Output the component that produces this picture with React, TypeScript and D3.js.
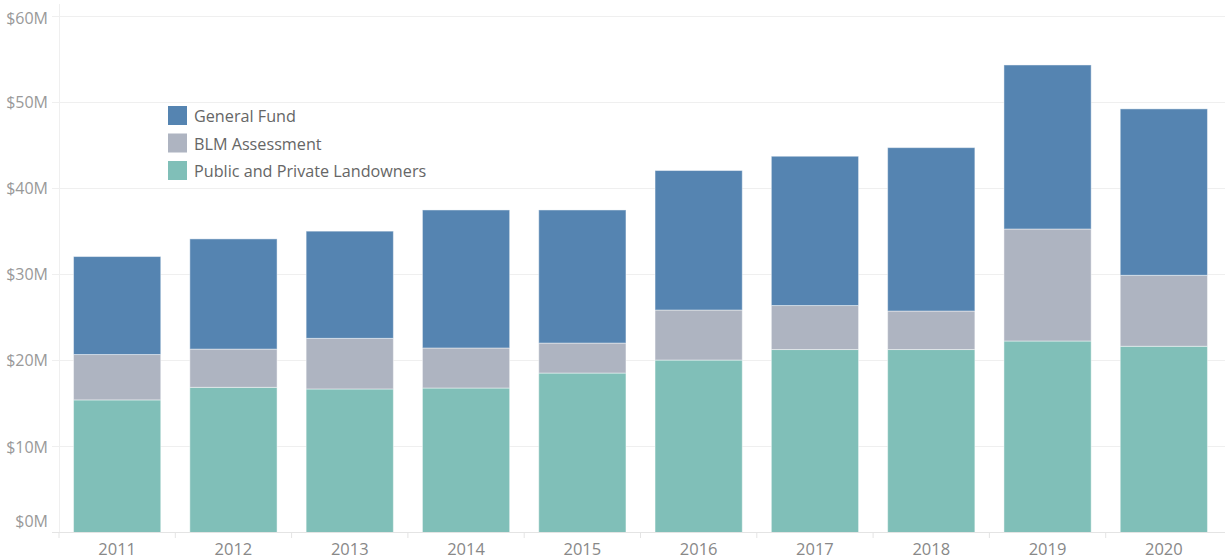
import React from "react";
import * as d3 from "d3";

const years = ["2011", "2012", "2013", "2014", "2015", "2016", "2017", "2018", "2019", "2020"];
const landowners = [15.4, 16.86, 16.67, 16.78, 18.52, 20.03, 21.25, 21.25, 22.24, 21.63];
const blm = [5.27, 4.44, 5.88, 4.65, 3.48, 5.81, 5.11, 4.47, 13.01, 8.24];
const generalFund = [11.38, 12.8, 12.45, 16.03, 15.46, 16.2, 17.34, 18.98, 19.05, 19.33];
const yTicks = [0, 10, 20, 30, 40, 50, 60];
const seriesNames = ["Public and Private Landowners", "BLM Assessment", "General Fund"];
const legendOrder = ["General Fund", "BLM Assessment", "Public and Private Landowners"];

const colors: Record<string, string> = {
  "General Fund": "#5584b1",
  "BLM Assessment": "#aeb4c1",
  "Public and Private Landowners": "#80bfb8",
};

const W = 1225;
const H = 559;
const font = "'Open Sans', Lato, sans-serif";

export default function App() {
  const x = d3.scaleBand<string>().domain(years).range([59, 1222]).paddingInner(0.25).paddingOuter(0.125);
  const y = d3.scaleLinear().domain([0, 60]).range([532.5, 15.9]);
  const rows = years.map((yr, i) => ({
    year: yr,
    "Public and Private Landowners": landowners[i],
    "BLM Assessment": blm[i],
    "General Fund": generalFund[i],
  }));
  const stack = d3.stack<any>().keys(seriesNames)(rows);
  const step = x.step();
  const start = x.range()[0];
  const labelShift = (t: number) => (t === 0 ? -11 : t === 60 ? 2.5 : 0.5);

  return (
    <svg width={W} height={H} style={{ position: "absolute", left: 0, top: 0, background: "#fff" }}>
      <line x1={59.5} x2={59.5} y1={4} y2={532} stroke="#efefef" strokeWidth={1} />
      {yTicks.map((t) => (
        <g key={t}>
          {t > 0 && (
            <line x1={52} x2={W} y1={Math.round(y(t)) + 0.5} y2={Math.round(y(t)) + 0.5} stroke="#efefef" strokeWidth={1} />
          )}
          <text x={48} y={y(t) + labelShift(t)} dy="0.35em" textAnchor="end" fontFamily={font} fontSize={16} fill="#999">
            ${t}M
          </text>
        </g>
      ))}
      {stack.map((s) => (
        <g key={s.key} fill={colors[s.key]}>
          {s.map((d: any, i: number) => (
            <rect
              key={i}
              x={x(d.data.year)}
              y={y(d[1])}
              width={x.bandwidth()}
              height={y(d[0]) - y(d[1])}
              stroke="rgba(255,255,255,0.45)"
              strokeWidth={1}
            />
          ))}
        </g>
      ))}
      <line x1={52} x2={W} y1={532.5} y2={532.5} stroke="#e4e4e4" strokeWidth={1} />
      {years.map((yr, i) => (
        <line key={"t" + yr} x1={start + i * step} x2={start + i * step} y1={533} y2={538} stroke="#e4e4e4" />
      ))}
      {years.map((yr) => (
        <text
          key={"l" + yr}
          x={(x(yr) as number) + x.bandwidth() / 2}
          y={554.5}
          textAnchor="middle"
          fontFamily={font}
          fontSize={16.5}
          fill="#888"
        >
          {yr}
        </text>
      ))}
      {legendOrder.map((name, i) => (
        <g key={name} transform={`translate(168, ${106 + i * 27.5})`}>
          <rect width={19} height={19} fill={colors[name]} />
          <text x={26} y={10.5} dy="0.35em" fontFamily={font} fontSize={16.2} fill="#666">
            {name}
          </text>
        </g>
      ))}
    </svg>
  );
}
